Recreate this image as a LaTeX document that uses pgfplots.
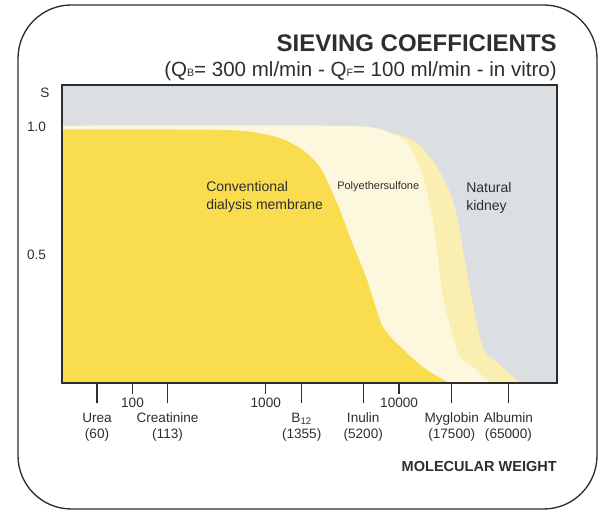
\documentclass[border=0pt]{standalone}
\usepackage{fontspec}
\setmainfont{Liberation Sans}
\usepackage{pgfplots}
\pgfplotsset{compat=1.18}
\definecolor{bggray}{HTML}{DCDFE2}
\definecolor{conv}{HTML}{FADD4E}
\definecolor{pes}{HTML}{FDF7DD}
\definecolor{kidney}{HTML}{FAEEB0}
\definecolor{ink}{HTML}{2E2E2E}

\begin{document}
\begin{tikzpicture}
\path[use as bounding box] (0,0) rectangle (450pt,384.75pt);
\begin{scope}[x=0.75pt,y=-0.75pt,yshift=384.75pt]
\draw[ink,line width=1pt,rounded corners=40pt] (18,5) rectangle (597,509);
\end{scope}

\begin{axis}[
  at={(46.275pt,97.275pt)}, anchor=south west,
  scale only axis, width=371.5pt, height=223.7pt,
  xmode=log, xmin=29.44, xmax=153000, ymin=0, ymax=1.164,
  axis background/.style={fill=bggray},
  axis line style={ink, line width=1.2pt},
  axis on top,
  tick align=outside,
  xtick pos=bottom,
  xtick={100,1000,10000}, xticklabels={100,1000,10000},
  minor tick style={draw=none},
  x tick style={ink, line width=1pt},
  major tick length=8.25pt,
  xticklabel style={font=\fontsize{10.2}{12}\selectfont, text=ink, yshift=1pt},
  extra x ticks={54.2,183.2,1858,5383,24830,66070},
  extra x tick labels={{Urea\\(60)},{Creatinine\\(113)},{B\textsubscript{12}\\(1355)},{Inulin\\(5200)},{Myglobin\\(17500)},{Albumin\\(65000)}},
  extra x tick style={major tick length=15pt,
    tick label style={align=center, font=\fontsize{10.5}{13.5}\selectfont, text=ink, yshift=-4.5pt}},
  ytick={0.5,1}, yticklabels={0.5,1.0},
  ytick style={draw=none},
  ytick pos=left,
  yticklabel style={font=\fontsize{10.2}{12}\selectfont, text=ink},
]
% natural kidney
\addplot[draw=none, fill=kidney, smooth, tension=0.45] coordinates {
 (29.44,1.005) (3000,1.005) (5082,1.0) (8531,0.980) (13610,0.938)
 (19230,0.844) (24100,0.743) (27670,0.637) (30130,0.520) (34040,0.364)
 (42660,0.138) (57280,0.071) (80910,0.0)
} \closedcycle;
% polyethersulfone
\addplot[draw=none, fill=pes, smooth, tension=0.45] coordinates {
 (29.44,1.005) (3000,1.005) (6368,0.998) (8531,0.977) (11455,0.938)
 (14350,0.844) (16480,0.727) (17950,0.637) (19230,0.520) (21380,0.337)
 (27670,0.118) (35890,0.064) (48190,0.0)
} \closedcycle;
% conventional dialysis membrane
\addplot[draw=none, fill=conv, smooth, tension=0.45] coordinates {
 (29.44,0.991) (320,0.990) (721,0.984) (1276,0.957) (1901,0.910)
 (2547,0.844) (3027,0.766) (3597,0.677) (4276,0.571) (5741,0.404)
 (7568,0.220) (11455,0.118) (16180,0.052) (24100,0.0)
} \closedcycle;
\end{axis}

\begin{scope}[x=0.75pt,y=-0.75pt,yshift=384.75pt, every node/.style={text=ink}]
\node[anchor=base east, font=\bfseries\fontsize{18}{20}\selectfont, inner sep=0] at (557,52) {SIEVING COEFFICIENTS};
\node[anchor=base east, font=\fontsize{15.4}{18}\selectfont, inner sep=0] at (557,77) {(Q{\fontsize{8}{8}\selectfont B}= 300 ml/min - Q{\fontsize{8}{8}\selectfont F}= 100 ml/min - in vitro)};
\node[font=\fontsize{10.2}{12}\selectfont] at (45,93) {S};
\node[anchor=base east, font=\bfseries\fontsize{10.9}{12}\selectfont, inner sep=0] at (557,472) {MOLECULAR WEIGHT};
\node[anchor=west, align=left, font=\fontsize{10.5}{13.5}\selectfont, inner sep=0] at (206,197) {Conventional\\dialysis membrane};
\node[anchor=west, font=\fontsize{8.25}{10}\selectfont, inner sep=0] at (337,187) {Polyethersulfone};
\node[anchor=west, align=left, font=\fontsize{10.5}{13.5}\selectfont, inner sep=0] at (466,198) {Natural\\kidney};
\end{scope}
\end{tikzpicture}
\end{document}
